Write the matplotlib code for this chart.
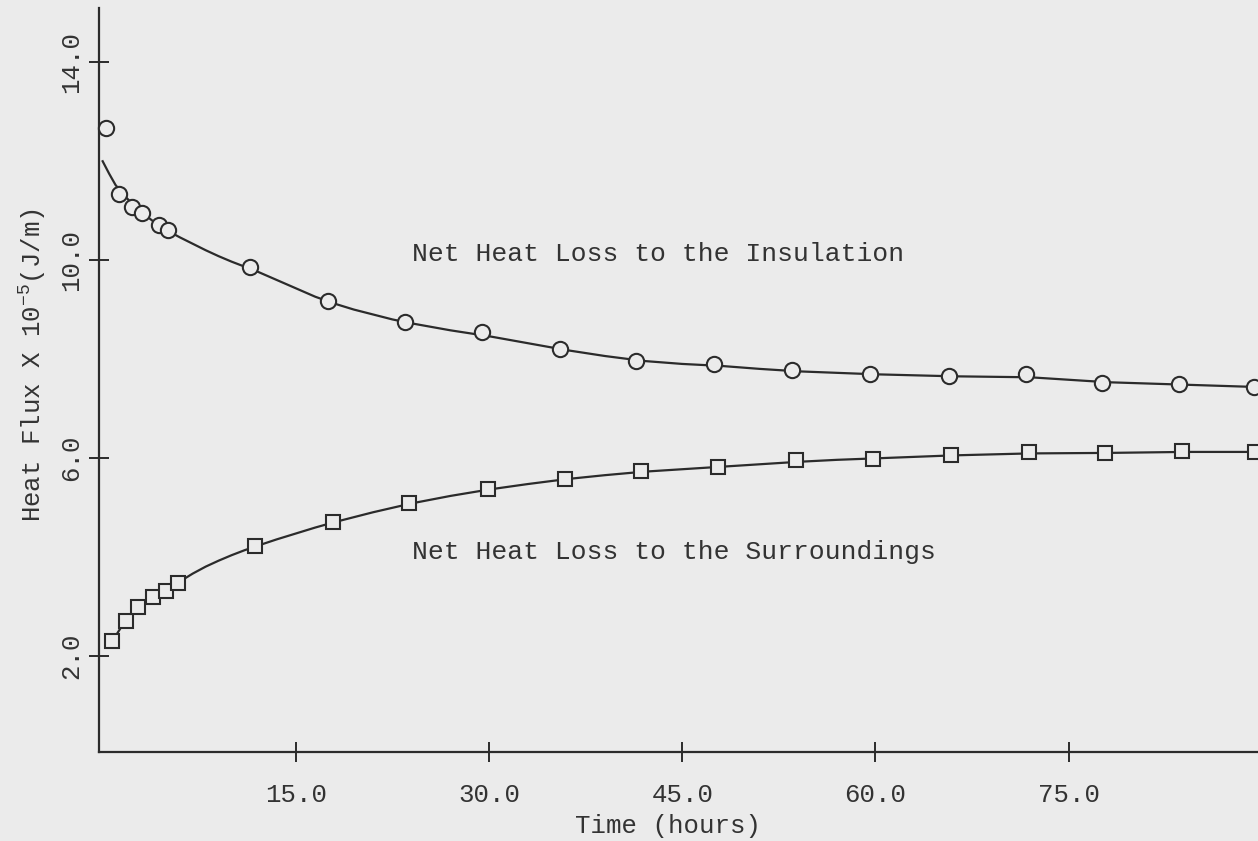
import matplotlib
matplotlib.use("Agg")
import matplotlib.pyplot as plt

plt.rcParams['font.family'] = ['Liberation Mono', 'DejaVu Sans Mono']
plt.rcParams['mathtext.fontset'] = 'custom'
plt.rcParams['mathtext.rm'] = 'Liberation Mono'
plt.rcParams['mathtext.it'] = 'Liberation Mono'
plt.rcParams['mathtext.bf'] = 'Liberation Mono'

# ---- data ----
ins_time = [0.27, 1.28, 2.29, 3.06, 4.38, 5.08, 11.43, 17.48, 23.45, 29.42, 35.5,
            41.4, 47.5, 53.5, 59.6, 65.7, 71.7, 77.6, 83.6, 89.4]
ins_flux = [12.67, 11.34, 11.07, 10.95, 10.71, 10.61, 9.86, 9.17, 8.74, 8.54, 8.20,
            7.96, 7.89, 7.77, 7.69, 7.65, 7.69, 7.51, 7.49, 7.43]

sur_time = [0.74, 1.82, 2.75, 3.91, 4.92, 5.85, 11.8, 17.9, 23.8, 29.9, 35.9,
            41.8, 47.8, 53.8, 59.8, 65.9, 71.9, 77.8, 83.8, 89.5]
sur_flux = [2.29, 2.69, 2.98, 3.18, 3.30, 3.46, 4.21, 4.70, 5.08, 5.36, 5.57,
            5.73, 5.81, 5.95, 5.97, 6.05, 6.11, 6.09, 6.13, 6.11]

ins_fit_t = [0.0, 0.5, 1.0, 1.5, 2.0, 3.0, 4.0, 5.0, 6.0, 7.0, 8.0, 9.0, 10.0,
             11.0, 12.0, 13.5, 15.0, 16.5, 18.0, 19.5, 21.0, 22.5, 24.0, 27.0,
             30.0, 33.0, 36.0, 39.0, 42.0, 45.0, 48.0, 51.0, 54.0, 57.0, 60.0,
             66.0, 72.0, 78.0, 84.0, 90.0]
ins_fit_q = [12.0, 11.75, 11.52, 11.36, 11.22, 10.97, 10.77, 10.6, 10.46, 10.33,
             10.2, 10.08, 9.97, 9.87, 9.77, 9.6, 9.43, 9.26, 9.12, 9.0, 8.9, 8.8,
             8.72, 8.58, 8.46, 8.32, 8.18, 8.06, 7.96, 7.9, 7.86, 7.8, 7.75,
             7.72, 7.69, 7.65, 7.63, 7.53, 7.48, 7.43]

sur_fit_t = [0.74, 1.5, 2.5, 3.5, 4.5, 6.0, 7.0, 8.0, 9.0, 10.0, 11.0, 12.0,
             13.5, 15.0, 16.5, 18.0, 19.5, 21.0, 22.5, 24.0, 27.0, 30.0, 33.0,
             36.0, 39.0, 42.0, 45.0, 48.0, 51.0, 54.0, 57.0, 60.0, 63.0, 66.0,
             72.0, 78.0, 84.0, 90.0]
sur_fit_q = [2.29, 2.6, 2.92, 3.13, 3.28, 3.5, 3.66, 3.8, 3.92, 4.03, 4.13, 4.22,
             4.35, 4.47, 4.59, 4.70, 4.8, 4.9, 4.99, 5.08, 5.23, 5.36, 5.47,
             5.57, 5.65, 5.72, 5.77, 5.82, 5.87, 5.92, 5.96, 5.99, 6.02, 6.05,
             6.09, 6.1, 6.12, 6.12]

x_ticks = [15.0, 30.0, 45.0, 60.0, 75.0]
y_ticks = [2.0, 6.0, 10.0, 14.0]
x_label = "Time (hours)"
y_label = r"Heat Flux X 10$^{-5}$(J/m)"
label_ins = "Net Heat Loss to the Insulation"
label_sur = "Net Heat Loss to the Surroundings"

# ---- styling ----
bg = '#ebebeb'
ink = '#2b2b2b'

W, H = 1258, 841
fig = plt.figure(figsize=(W / 100, H / 100), dpi=100, facecolor=bg)
ax = fig.add_axes([98.8 / W, (H - 752) / H, (W - 98.8) / W, 744 / H])
ax.set_facecolor(bg)
ax.set_xlim(-0.3, 89.7)
ax.set_ylim(0.05, 15.1)

ax.plot(ins_fit_t, ins_fit_q, color=ink, lw=1.6, zorder=2, clip_on=False,
        solid_joinstyle='round')
ax.plot(sur_fit_t, sur_fit_q, color=ink, lw=1.6, zorder=2, clip_on=False,
        solid_joinstyle='round')
ax.plot(ins_time, ins_flux, linestyle='none', marker='o', ms=11, mew=1.5,
        mfc=bg, mec=ink, zorder=3, clip_on=False)
ax.plot(sur_time, sur_flux, linestyle='none', marker='s', ms=10.5, mew=1.5,
        mfc=bg, mec=ink, zorder=3, clip_on=False)

ax.text(24.0, 10.12, label_ins, fontsize=19, color='#333333', ha='left', va='center')
ax.text(24.0, 4.10, label_sur, fontsize=19, color='#333333', ha='left', va='center')

for s in ['top', 'right']:
    ax.spines[s].set_visible(False)
for s in ['left', 'bottom']:
    ax.spines[s].set_color(ink)
    ax.spines[s].set_linewidth(1.6)

ax.set_xticks(x_ticks)
ax.set_xticklabels([f"{v:.1f}" for v in x_ticks])
ax.set_yticks(y_ticks)
ax.set_yticklabels([f"{v:.1f}" for v in y_ticks], rotation=90, va='center')
ax.tick_params(axis='x', direction='inout', length=15, width=1.4, color=ink,
               labelsize=18.5, labelcolor='#333333', pad=14.5)
ax.tick_params(axis='y', direction='inout', length=15, width=1.4, color=ink,
               labelsize=18.5, labelcolor='#333333', pad=4)

ax.set_xlabel(x_label, fontsize=18.5, color='#333333')
ax.xaxis.set_label_coords(0.491, -0.083)
ax.set_ylabel(y_label, fontsize=18.5, color='#333333')
ax.yaxis.set_label_coords(-0.044, 0.52)

fig.savefig("out.png", dpi=100, facecolor=bg)
